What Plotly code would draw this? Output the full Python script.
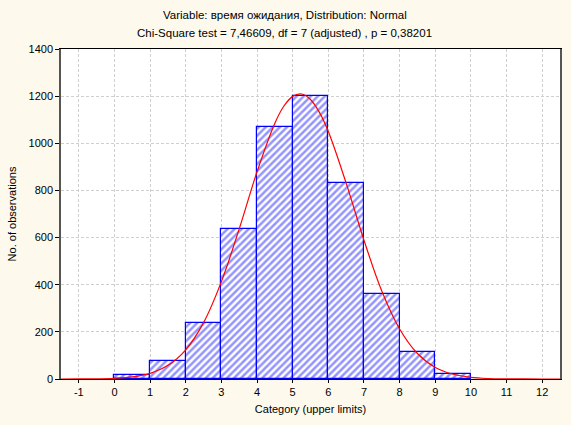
import plotly.graph_objects as go

# Data
upper_limits = [1, 2, 3, 4, 5, 6, 7, 8, 9, 10]
observed = [18, 75, 237, 636, 1069, 1200, 830, 360, 114, 20]

curve_x = [-1.5, -1, -0.5, 0, 0.5, 1, 1.5, 2, 2.5, 3, 3.5, 4, 4.5, 4.75, 5, 5.25,
           5.5, 5.75, 6, 6.5, 7, 7.5, 8, 8.5, 9, 9.5, 10, 10.5, 11, 11.5, 12, 12.5]
curve_y = [0, 0.2, 0.9, 3, 9, 24, 58, 124, 239, 413, 637, 879, 1085, 1157, 1199, 1209,
           1186, 1131, 1050, 831, 589, 373, 212, 108, 49, 20, 7, 2, 0.6, 0.2, 0, 0]

x_ticks = [-1, 0, 1, 2, 3, 4, 5, 6, 7, 8, 9, 10, 11, 12]
y_ticks = [0, 200, 400, 600, 800, 1000, 1200, 1400]

title1 = "Variable: время ожидания, Distribution: Normal"
title2 = "Chi-Square test = 7,46609, df = 7 (adjusted) , p = 0,38201"

FONT = "Liberation Sans, Arial, sans-serif"

fig = go.Figure()
fig.add_trace(go.Bar(
    x=upper_limits, y=observed, width=1, offset=-1,
    marker=dict(color="white",
                line=dict(color="#0000ff", width=1.2),
                pattern=dict(shape="/", fgcolor="#2a2aff", bgcolor="white",
                             size=5, solidity=0.5)),
    hoverinfo="skip", showlegend=False))
fig.add_trace(go.Scatter(
    x=curve_x, y=curve_y, mode="lines",
    line=dict(color="#ff0000", width=1.2, shape="spline", smoothing=1.0),
    showlegend=False, hoverinfo="skip"))

grid = dict(showgrid=True, gridcolor="#cfcfcf", griddash="3px,2px", gridwidth=1)
fig.update_xaxes(range=[-1.5, 12.5], tickvals=x_ticks, ticktext=[str(v) for v in x_ticks],
                 showline=True, linecolor="black", linewidth=1, mirror=True,
                 ticks="outside", ticklen=3, tickcolor="black",
                 zeroline=False, title=dict(text="Category (upper limits)", standoff=8,
                                            font=dict(size=11, color="black", family=FONT)),
                 tickfont=dict(size=11, color="black", family=FONT), **grid)
fig.update_yaxes(range=[0, 1400], tickvals=y_ticks,
                 showline=True, linecolor="#555555", linewidth=1.5, mirror=True,
                 ticks="outside", ticklen=4, tickcolor="black",
                 zeroline=False, title=dict(text="No. of observations", standoff=10,
                                            font=dict(size=11, color="black", family=FONT)),
                 tickfont=dict(size=11, color="black", family=FONT), **grid)

fig.add_annotation(text=title1, xref="paper", yref="paper", x=0.448, y=1, yshift=34,
                   showarrow=False, xanchor="center", yanchor="middle",
                   font=dict(size=11.5, color="black", family=FONT))
fig.add_annotation(text=title2, xref="paper", yref="paper", x=0.448, y=1, yshift=16,
                   showarrow=False, xanchor="center", yanchor="middle",
                   font=dict(size=11.5, color="black", family=FONT))

fig.update_layout(width=571, height=425, margin=dict(l=61, r=9, t=49, b=46),
                  paper_bgcolor="#fdf9ec", plot_bgcolor="white",
                  bargap=0, font=dict(family=FONT, size=11, color="black"))

fig.write_html("out.html")
